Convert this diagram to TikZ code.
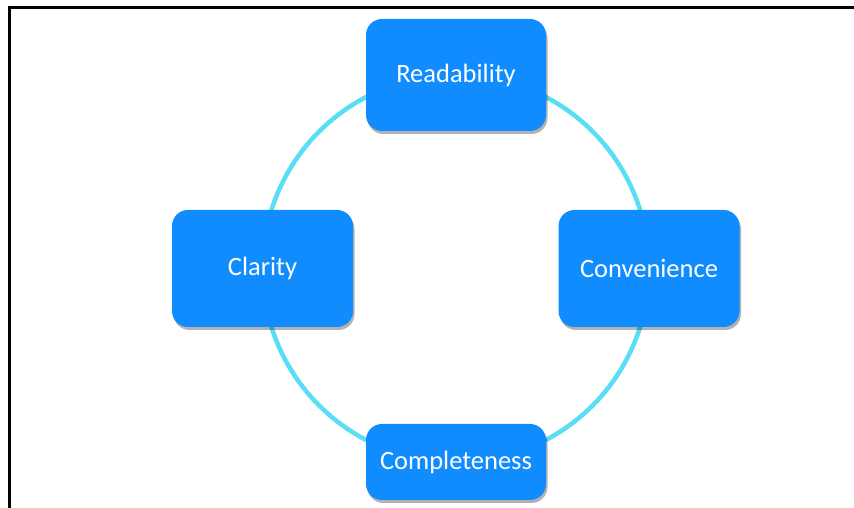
\documentclass[tikz,border=0pt]{standalone}
\usepackage{fontspec}
\setmainfont{Carlito}
\usetikzlibrary{shadows,backgrounds}
\definecolor{boxblue}{RGB}{16,140,255}
\definecolor{ringcyan}{RGB}{90,222,247}
\begin{document}
\begin{tikzpicture}[x=1pt,y=1pt,
  box/.style={rectangle, rounded corners=16pt, fill=boxblue, draw=none,
    text=white, font=\fontsize{26.5}{30}\selectfont, inner sep=0pt,
    drop shadow={shadow xshift=1.5pt, shadow yshift=-3pt, opacity=0.3, fill=black}},
  ring/.style={draw=ringcyan, line width=4.5pt}]
\clip (0,0) rectangle (854,508);
\draw[line width=3pt] (9,-20) |- (900,500);
\node[box, minimum width=180pt, minimum height=112pt] (R) at (456,433) {Readability};
\node[box, minimum width=181pt, minimum height=117pt] (Cl) at (262.5,239.5) {Clarity};
\node[box, minimum width=181pt, minimum height=117pt] (V) at (649,239.5) {Convenience};
\node[box, minimum width=180pt, minimum height=76pt] (Co) at (456,46) {Completeness};
\begin{pgfonlayer}{background}
\fill[white] (0,0) rectangle (854,508);
\draw[ring] (R.center) to[out=0,in=90] (V.center);
\draw[ring] (V.center) to[out=-90,in=0] (Co.center);
\draw[ring] (Co.center) to[out=180,in=-90] (Cl.center);
\draw[ring] (Cl.center) to[out=90,in=180] (R.center);
\end{pgfonlayer}
\end{tikzpicture}
\end{document}
